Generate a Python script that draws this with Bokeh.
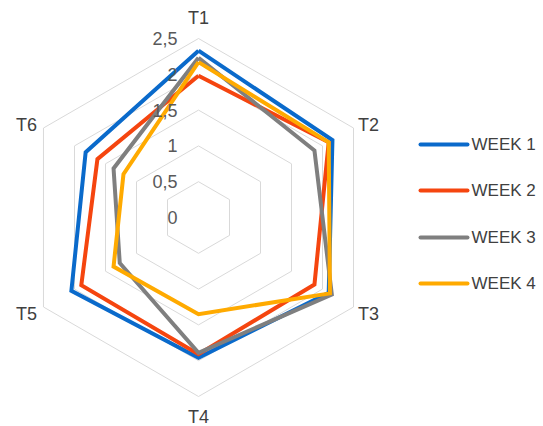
import math
from bokeh.plotting import figure
from bokeh.models import Range1d
from bokeh.core.properties import value
from bokeh.embed import file_html
from bokeh.resources import INLINE

categories = ["T1", "T2", "T3", "T4", "T5", "T6"]
series_names = ["WEEK 1", "WEEK 2", "WEEK 3", "WEEK 4"]
week1 = [2.33, 2.16, 2.10, 1.96, 2.05, 1.82]
week2 = [1.98, 2.10, 1.87, 1.91, 1.89, 1.63]
week3 = [2.23, 1.87, 2.15, 1.89, 1.27, 1.37]
week4 = [2.17, 2.10, 2.12, 1.35, 1.37, 1.21]
tick_values = [0, 0.5, 1, 1.5, 2, 2.5]
tick_labels = ["0", "0,5", "1", "1,5", "2", "2,5"]
colors = ["#0A6ACB", "#F5450F", "#7F7F7F", "#FFAA00"]

W, H = 543, 426
cx, cy = 198, 217          # pixel centre
s = 179 / 2.5              # pixels per unit

p = figure(width=W, height=H, output_backend="svg", toolbar_location=None,
           x_range=Range1d(-cx / s, (W - cx) / s),
           y_range=Range1d(-(H - cy) / s, cy / s),
           min_border=0)
p.axis.visible = False
p.grid.visible = False
p.outline_line_color = None
p.background_fill_color = "white"

n = len(categories)
angles = [math.pi / 2 - i * 2 * math.pi / n for i in range(n)]

def pts(vals):
    xs = [v * math.cos(a) for v, a in zip(vals, angles)]
    ys = [v * math.sin(a) for v, a in zip(vals, angles)]
    return xs + xs[:1], ys + ys[:1]

# grid hexagons
for t in tick_values[1:]:
    xs, ys = pts([t] * n)
    p.line(xs, ys, line_color="#D9D9D9", line_width=1)

# series
for name, vals, c in zip(series_names, [week1, week2, week3, week4], colors):
    xs, ys = pts(vals)
    p.line(xs, ys, line_color=c, line_width=4, line_join="miter")

font = value("Liberation Sans")
# tick labels
p.text(x=[-21 / s] * len(tick_values), y=tick_values, text=tick_labels,
       text_align="right", text_baseline="middle", text_font=font,
       text_font_size="18px", text_color="#595959")

# category labels
lx = [0, 170 / s, 170 / s, 0, -172 / s, -172 / s]
ly = [(cy - 17) / s, (cy - 124) / s, (cy - 313) / s, (cy - 416) / s, (cy - 313) / s, (cy - 124) / s]
p.text(x=lx, y=ly, text=categories, text_align="center", text_baseline="middle",
       text_font=font, text_font_size="18px", text_color="#404040")

# legend
leg_y = [144, 190, 237, 283]
for name, c, py in zip(series_names, colors, leg_y):
    yv = (cy - py) / s
    p.line([(420 - cx) / s, (467 - cx) / s], [yv, yv], line_color=c, line_width=4, line_cap="round")
p.text(x=[(471 - cx) / s] * 4, y=[(cy - py) / s for py in leg_y], text=series_names,
       text_align="left", text_baseline="middle", text_font=font,
       text_font_size="17px", text_color="#404040")

open("out.html", "w").write(file_html(p, INLINE))
